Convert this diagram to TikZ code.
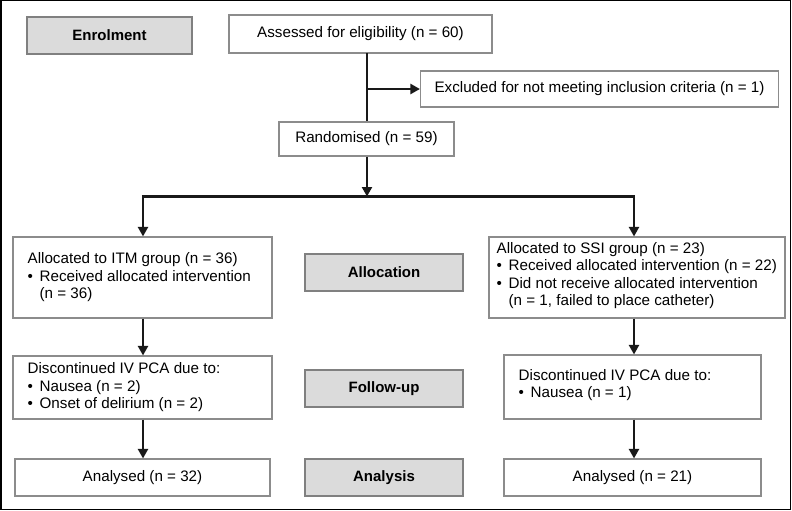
\documentclass[tikz,border=0pt]{standalone}
\usepackage{fontspec}
\setmainfont{Liberation Sans}
\usetikzlibrary{arrows.meta}
\newcommand\bul{\makebox[12pt][l]{\textbullet}}
\begin{document}
\begin{tikzpicture}[x=1pt,y=-1pt,
  font=\fontsize{15.2}{17.5}\selectfont,
  wbox/.style={draw=black!45, line width=1.1pt, fill=white, inner sep=0pt, align=center},
  gbox/.style={draw=black!50, line width=1.2pt, fill=black!14, inner sep=0pt, align=center, font=\fontsize{15}{17.5}\selectfont\bfseries},
  txt/.style={inner sep=0pt, align=left, anchor=west},
  conn/.style={draw=black!90, line width=2.2pt},
  arr/.style={conn, -{Triangle[length=9.5pt,width=10pt]}}
]
\useasboundingbox (0,0) rectangle (792,511);
\draw[line width=1.5pt, black] (0.75,0.75) rectangle (790.5,509.5);

\node[gbox, minimum width=165pt, minimum height=37pt] (enrol) at (109.5,35.5) {Enrolment};
\node[wbox, minimum width=263pt, minimum height=38pt] (assess) at (360.5,34) {Assessed for eligibility (n = 60)};
\node[wbox, minimum width=358pt, minimum height=36pt] (excl) at (599.5,89) {Excluded for not meeting inclusion criteria (n = 1)};
\node[wbox, minimum width=175pt, minimum height=34pt] (rand) at (366.5,139) {Randomised (n = 59)};

\node[wbox, minimum width=259pt, minimum height=81pt] (itm) at (142.5,277.5) {};
\node[txt] (itmt) at ([xshift=15pt]itm.west)
  {Allocated to ITM group (n = 36)\\ \bul Received allocated intervention\\ \hphantom{\bul}(n = 36)};
\node[gbox, minimum width=158pt, minimum height=37pt] (alloc) at (384,272.5) {Allocation};
\node[wbox, minimum width=296pt, minimum height=81pt] (ssi) at (637,277.5) {};
\node[txt] (ssit) at ([xshift=8pt,yshift=2pt]ssi.west)
  {Allocated to SSI group (n = 23)\\ \bul Received allocated intervention (n = 22)\\ \bul Did not receive allocated intervention\\ \hphantom{\bul}(n = 1, failed to place catheter)};

\node[wbox, minimum width=259pt, minimum height=63pt] (discL) at (142.5,387.5) {};
\node[txt] (discLt) at ([xshift=15pt]discL.west)
  {Discontinued IV PCA due to:\\ \bul Nausea (n = 2)\\ \bul Onset of delirium (n = 2)};
\node[gbox, minimum width=158pt, minimum height=37pt] (follow) at (384,388.5) {Follow-up};
\node[wbox, minimum width=257pt, minimum height=64pt] (discR) at (632.5,387) {};
\node[txt] (discRt) at ([xshift=15pt,yshift=2pt]discR.west)
  {Discontinued IV PCA due to:\\ \bul Nausea (n = 1)};

\node[wbox, minimum width=255pt, minimum height=37pt] (anaL) at (142.5,477.5) {Analysed (n = 32)};
\node[gbox, minimum width=158pt, minimum height=37pt] (analysis) at (384,477.5) {Analysis};
\node[wbox, minimum width=257pt, minimum height=37pt] (anaR) at (632.5,477.5) {Analysed (n = 21)};

\coordinate (top) at (367,53);
\coordinate (br) at (367,89);
\coordinate (lc) at (143,196.5);
\coordinate (mc) at (367,196.5);
\coordinate (rc) at (634,196.5);

\draw[conn] (top) -- (top |- rand.north);
\draw[arr] (br) -- (excl.west);
\draw[arr] (rand.south -| mc) -- (mc);
\draw[conn] ([xshift=-1.1pt]lc) -- ([xshift=1.1pt]rc);
\draw[arr] (lc) -- (lc |- itm.north);
\draw[arr] (rc) -- (rc |- ssi.north);
\draw[arr] (lc |- itm.south) -- (lc |- discL.north);
\draw[arr] (rc |- ssi.south) -- (rc |- discR.north);
\draw[arr] (lc |- discL.south) -- (lc |- anaL.north);
\draw[arr] (rc |- discR.south) -- (rc |- anaR.north);
\end{tikzpicture}
\end{document}
